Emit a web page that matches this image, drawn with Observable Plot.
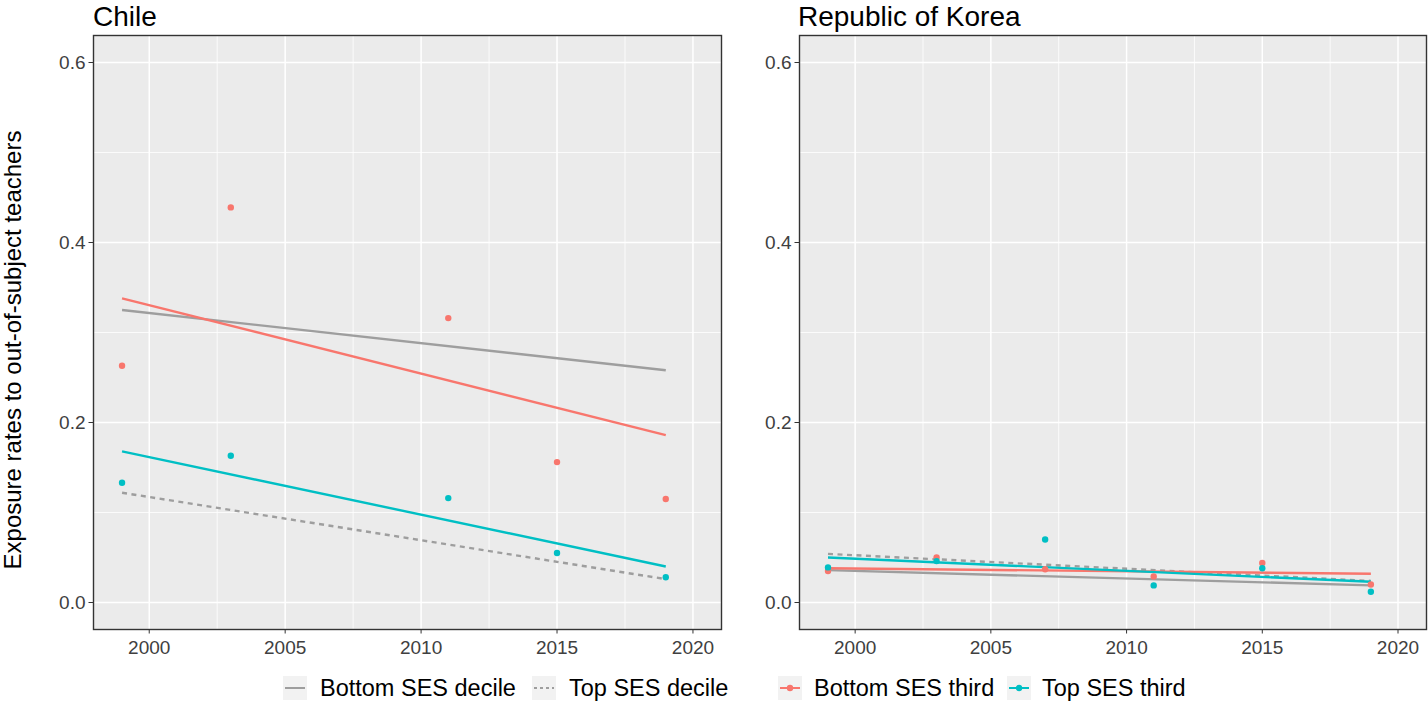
<!DOCTYPE html>
<html>
<head>
<meta charset="utf-8">
<script src="https://cdn.jsdelivr.net/npm/d3@7"></script>
<script src="https://cdn.jsdelivr.net/npm/@observablehq/plot@0.6"></script>
<style>
  html, body { margin: 0; padding: 0; background: #ffffff; }
  body { width: 1428px; height: 703px; position: relative; overflow: hidden; font-family: "Liberation Sans", Arial, sans-serif; }
  .panel { position: absolute; top: 0; }
  .title { position: absolute; top: 3px; font-size: 28px; line-height: 28px; color: #000; white-space: nowrap; }
  .ylab { position: absolute; left: 0; top: 0; font-size: 24px; line-height: 24px; color: #000; white-space: nowrap;
          transform-origin: 0 0; }
  .leg { position: absolute; top: 676px; height: 24px; display: flex; align-items: center; font-size: 23.5px; color: #000; white-space: nowrap; }
</style>
</head>
<body>
<div id="chile" class="panel" style="left:0px"></div>
<div id="korea" class="panel" style="left:706px"></div>
<div class="title" style="left:93px">Chile</div>
<div class="title" style="left:798px">Republic of Korea</div>
<div id="ylab" class="ylab">Exposure rates to out-of-subject teachers</div>
<script>
// ---------- data ----------
const trendYears = [1999, 2019];

const chileYears = [1999, 2003, 2011, 2015, 2019];
const chileBottomThird = [0.263, 0.439, 0.316, 0.156, 0.115];
const chileTopThird = [0.133, 0.163, 0.116, 0.055, 0.028];

const koreaYears = [1999, 2003, 2007, 2011, 2015, 2019];
const koreaBottomThird = [0.035, 0.050, 0.037, 0.029, 0.044, 0.020];
const koreaTopThird = [0.039, 0.046, 0.070, 0.019, 0.038, 0.012];

const chileTrendBottomDecile = [0.325, 0.258];
const chileTrendTopDecile = [0.122, 0.026];
const chileTrendBottomThird = [0.338, 0.186];
const chileTrendTopThird = [0.168, 0.040];

const koreaTrendBottomDecile = [0.036, 0.019];
const koreaTrendTopDecile = [0.054, 0.024];
const koreaTrendBottomThird = [0.038, 0.032];
const koreaTrendTopThird = [0.050, 0.023];

const seriesNames = ["Bottom SES decile", "Top SES decile", "Bottom SES third", "Top SES third"];
const xTicks = [2000, 2005, 2010, 2015, 2020];
const yTicks = [0, 0.2, 0.4, 0.6];
const xMinor = [2002.5, 2007.5, 2012.5, 2017.5];
const yMinor = [0.1, 0.3, 0.5];

// ---------- styling ----------
const colors = {"Bottom SES decile": "#9E9E9E", "Top SES decile": "#9E9E9E", "Bottom SES third": "#F8766D", "Top SES third": "#00BFC4"};
const dashes = {"Bottom SES decile": null, "Top SES decile": "5,4.5", "Bottom SES third": null, "Top SES third": null};

function trendRows(vals) {
  const rows = [];
  vals.forEach((arr, i) => trendYears.forEach((yr, j) => rows.push({series: seriesNames[i], year: yr, value: arr[j]})));
  return rows;
}
function pointRows(years, bottom, top) {
  const rows = [];
  years.forEach((yr, j) => rows.push({series: "Bottom SES third", year: yr, value: bottom[j]}));
  years.forEach((yr, j) => rows.push({series: "Top SES third", year: yr, value: top[j]}));
  return rows;
}

function panel(trends, points, width, marginRight) {
  const lineMarks = seriesNames.map(name => Plot.line(trends.filter(d => d.series === name), {
    x: "year", y: "value", stroke: colors[name], strokeWidth: 2.4,
    strokeDasharray: dashes[name] || undefined, strokeLinecap: "butt"
  }));
  return Plot.plot({
    width: width, height: 660,
    marginTop: 35, marginBottom: 31, marginLeft: 93, marginRight: marginRight,
    style: {fontFamily: "'Liberation Sans', Arial, sans-serif", fontSize: "19px", color: "#4D4D4D", background: "transparent", overflow: "visible"},
    x: {domain: [1997.95, 2021.05], label: null},
    y: {domain: [-0.03, 0.63], label: null},
    marks: [
      Plot.frame({fill: "#EBEBEB", stroke: null}),
      Plot.ruleX(xMinor, {stroke: "#ffffff", strokeWidth: 0.8}),
      Plot.ruleY(yMinor, {stroke: "#ffffff", strokeWidth: 0.8}),
      Plot.ruleX(xTicks, {stroke: "#ffffff", strokeWidth: 1.5}),
      Plot.ruleY(yTicks, {stroke: "#ffffff", strokeWidth: 1.5}),
      ...lineMarks,
      Plot.dot(points, {x: "year", y: "value", fill: d => colors[d.series], r: 3.2, stroke: null}),
      Plot.frame({stroke: "#333333", strokeWidth: 1.4}),
      Plot.axisX(xTicks, {tickFormat: d => String(d), tickSize: 4.5, tickPadding: 6, stroke: "#333333", fill: "#404040", fontSize: 19, label: null}),
      Plot.axisY(yTicks, {tickFormat: d3.format(".1f"), tickSize: 4.5, tickPadding: 3.5, stroke: "#333333", fill: "#404040", fontSize: 19, label: null})
    ]
  });
}

const chileTrends = trendRows([chileTrendBottomDecile, chileTrendTopDecile, chileTrendBottomThird, chileTrendTopThird]);
const koreaTrends = trendRows([koreaTrendBottomDecile, koreaTrendTopDecile, koreaTrendBottomThird, koreaTrendTopThird]);
document.getElementById("chile").appendChild(panel(chileTrends, pointRows(chileYears, chileBottomThird, chileTopThird), 730, 9));
document.getElementById("korea").appendChild(panel(koreaTrends, pointRows(koreaYears, koreaBottomThird, koreaTopThird), 722, 2));

// y-axis title
const yl = document.getElementById("ylab");
const w = yl.getBoundingClientRect().width;
const centerY = 350;
yl.style.transform = `translate(1px, ${centerY + w / 2}px) rotate(-90deg)`;

// legend
const items = [
  {name: "Bottom SES decile", left: 283, textLeft: 320},
  {name: "Top SES decile", left: 532, textLeft: 569},
  {name: "Bottom SES third", left: 778, textLeft: 814},
  {name: "Top SES third", left: 1007, textLeft: 1042}
];
items.forEach(it => {
  const key = document.createElement("div");
  key.style.cssText = `position:absolute; left:${it.left}px; top:676px; width:24px; height:24px;`;
  const c = colors[it.name];
  const dash = dashes[it.name] ? `stroke-dasharray="3,3"` : "";
  const dot = it.name.includes("third") ? `<circle cx="12" cy="12" r="3.2" fill="${c}"/>` : "";
  key.innerHTML = `<svg width="24" height="24"><rect width="24" height="24" fill="#F2F2F2"/><line x1="2" x2="22" y1="12" y2="12" stroke="${c}" stroke-width="2" ${dash}/>${dot}</svg>`;
  document.body.appendChild(key);
  const t = document.createElement("div");
  t.className = "leg";
  t.style.left = it.textLeft + "px";
  t.textContent = it.name;
  document.body.appendChild(t);
});
</script>
</body>
</html>
